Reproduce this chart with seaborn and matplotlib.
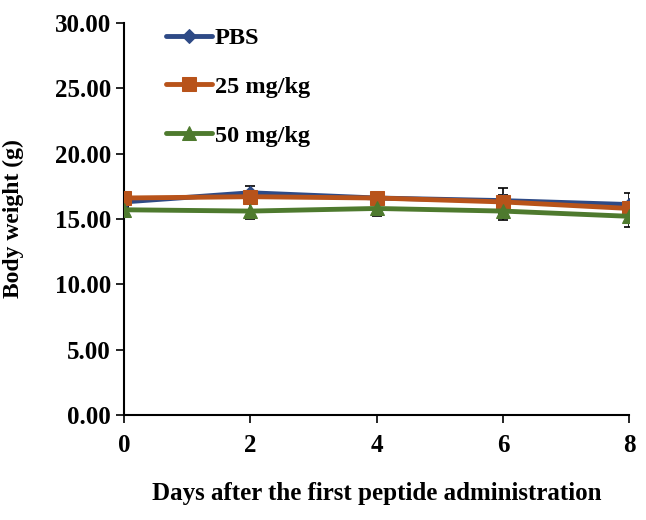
import numpy as np
import pandas as pd
import matplotlib
matplotlib.use("Agg")
import matplotlib.pyplot as plt
import seaborn as sns

days = [0, 2, 4, 6, 8]
groups = ["PBS", "25 mg/kg", "50 mg/kg"]
pbs = [16.3, 17.0, 16.6, 16.4, 16.1]
pbs_err = [0.4, 0.5, 0.3, 1.0, 0.9]
mg25 = [16.6, 16.7, 16.6, 16.3, 15.8]
mg25_err = [0.3, 0.4, 0.3, 0.5, 0.4]
mg50 = [15.7, 15.6, 15.8, 15.6, 15.2]
mg50_err = [0.3, 0.6, 0.6, 0.7, 0.8]

colors = ["#2E4A86", "#B8531A", "#4E7A2E"]
markers = ["D", "s", "^"]
msizes = [7, 10, 10]

sns.set_style("ticks", {"axes.edgecolor": "black", "text.color": "black",
                        "xtick.color": "black", "ytick.color": "black",
                        "axes.labelcolor": "black"})
plt.rcParams["font.family"] = ["Liberation Serif", "DejaVu Serif"]
plt.rcParams["font.weight"] = "bold"

df = pd.DataFrame({
    "day": days * 3,
    "weight": pbs + mg25 + mg50,
    "err": pbs_err + mg25_err + mg50_err,
    "group": [g for g in groups for _ in days],
})

fig, ax = plt.subplots(figsize=(6.46, 5.2), dpi=100)
fig.subplots_adjust(left=0.192, right=0.974, top=0.956, bottom=0.202)

for i, g in enumerate(groups):
    sub = df[df["group"] == g]
    # error bars first, lines on top
    ax.errorbar(sub["day"], sub["weight"], yerr=sub["err"], fmt="none",
                ecolor="black", elinewidth=1.2, capsize=3.5, capthick=1.2, zorder=2)
    sns.lineplot(data=sub, x="day", y="weight", ax=ax, color=colors[i],
                 marker=markers[i], markersize=msizes[i], markeredgecolor=colors[i],
                 linewidth=3.5, label=g, zorder=3)

ax.set_xlim(0, 8)
ax.set_ylim(0, 30)
ax.set_xticks(days)
ax.set_yticks(np.arange(0, 30.1, 5))
ax.set_yticklabels([f"{v:.2f}" for v in np.arange(0, 30.1, 5)])
ax.tick_params(axis="both", labelsize=18, width=1.2, length=6, direction="out",
               colors="black")
ax.tick_params(axis="x", pad=8)
for lab in ax.get_xticklabels() + ax.get_yticklabels():
    lab.set_fontweight("bold")
ax.spines["top"].set_visible(False)
ax.spines["right"].set_visible(False)
ax.spines["left"].set_linewidth(1.5)
ax.spines["bottom"].set_linewidth(1.5)
ax.set_xlabel("Days after the first peptide administration", fontsize=18,
              fontweight="bold", labelpad=18)
ax.set_ylabel("Body weight (g)", fontsize=17, fontweight="bold", labelpad=22)

leg = ax.legend(loc="upper left", bbox_to_anchor=(0.04, 1.045), frameon=False,
                handlelength=1.9, handletextpad=0.1, labelspacing=1.1,
                prop={"weight": "bold", "size": 17.5})

plt.savefig("out.png", dpi=100)
